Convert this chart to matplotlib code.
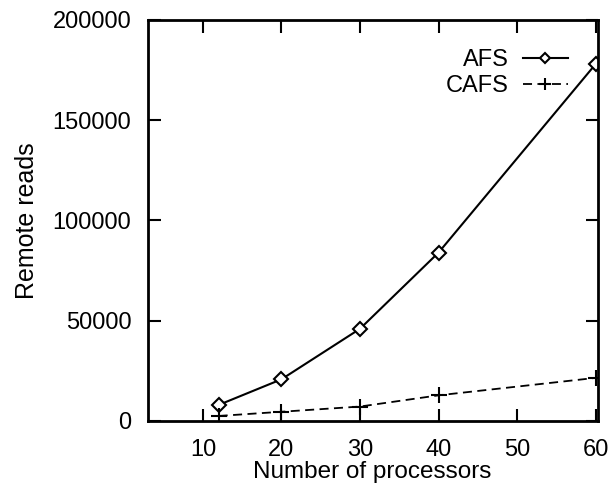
import matplotlib
matplotlib.use('Agg')
from matplotlib import pyplot as plt

# Data
processors = [12, 20, 30, 40, 60]
afs_reads = [8000, 20800, 46000, 84000, 178000]
cafs_reads = [2500, 4600, 7200, 12800, 21500]

plt.rcParams['font.family'] = ['Liberation Sans', 'DejaVu Sans']
plt.rcParams['font.size'] = 17

fig = plt.figure(figsize=(6.13, 4.84), dpi=100)
ax = fig.add_axes([0.2414, 0.1302, 0.7341, 0.8285])

ax.plot(processors, afs_reads, color='black', lw=1.5, marker='D', ms=7,
        mfc='white', mec='black', mew=1.5, label='AFS')
ax.plot(processors, cafs_reads, color='black', lw=1.3, ls=(0, (5, 3)),
        marker='+', ms=12, mew=1.5, label='CAFS')

ax.set_xlim(3, 60.3)
ax.set_ylim(0, 200000)
ax.set_xticks([10, 20, 30, 40, 50, 60])
ax.set_yticks([0, 50000, 100000, 150000, 200000])
ax.tick_params(direction='in', length=9, width=1.5, top=True, right=True)
ax.tick_params(axis='x', pad=13)
ax.tick_params(axis='y', pad=12)
for s in ax.spines.values():
    s.set_linewidth(2)

ax.set_xlabel('Number of processors', fontsize=17.5)
ax.xaxis.set_label_coords(0.499, -0.1)
ax.set_ylabel('Remote reads', fontsize=18, labelpad=10)

# gnuplot-style key: label first, sample on the right
ax.legend(loc='upper right', frameon=False, markerfirst=False, handlelength=1.9,
          handletextpad=0.6, borderaxespad=0, borderpad=0, labelspacing=0.17,
          markerscale=0.75, bbox_to_anchor=(0.933, 0.927))

fig.savefig('out.png', dpi=100)
